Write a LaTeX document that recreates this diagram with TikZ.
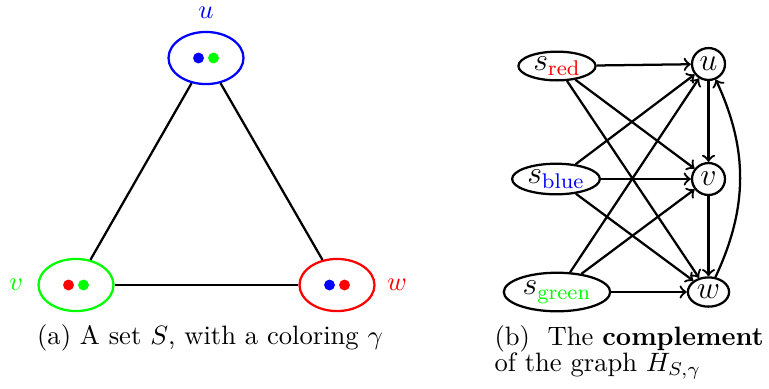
\documentclass[tikz,border=0pt]{standalone}
\usetikzlibrary{shapes.geometric}
\definecolor{pgreen}{RGB}{0,255,0}
\definecolor{pred}{RGB}{255,0,0}
\definecolor{pblue}{RGB}{0,0,255}
\begin{document}
\begin{tikzpicture}[x=0.376pt,y=-0.376pt,
  setnode/.style={ellipse,draw,line width=0.85pt,minimum width=28.2pt,minimum height=19.6pt,inner sep=0pt},
  dot/.style={circle,fill,inner sep=0pt,minimum size=4.1pt},
  gnode/.style={ellipse,draw,line width=0.85pt,inner sep=0pt,font=\large},
  edge/.style={line width=0.85pt},
  arc/.style={line width=0.85pt,->}]
\useasboundingbox (0,0) rectangle (769,388);
% (a)
\node[setnode,draw=pblue] (u) at (206,58) {};
\node[setnode,draw=pgreen] (v) at (76,285) {};
\node[setnode,draw=pred] (w) at (337,285) {};
\node[dot,pblue] (u1) at (198.5,58) {};
\node[dot,pgreen] (u2) at (213.5,58) {};
\node[dot,pred] (v1) at (68.5,285) {};
\node[dot,pgreen] (v2) at (83.5,285) {};
\node[dot,pblue] (w1) at (329.5,285) {};
\node[dot,pred] (w2) at (344.5,285) {};
\node[text=pblue] (lu) at (206,13) {$u$};
\node[text=pgreen] (lv) at (16,285) {$v$};
\node[text=pred] (lw) at (397,285) {$w$};
\draw[edge] (u) -- (v);
\draw[edge] (u) -- (w);
\draw[edge] (v) -- (w);
\node (capa) at (210,338) {(a) A set $S$, with a coloring $\gamma$};
% (b)
\node[gnode,minimum width=29pt,minimum height=10.8pt] (sr) at (557,66) {$s_{\textcolor{pred}{\mathrm{red}}}$};
\node[gnode,minimum width=33pt,minimum height=11.5pt] (sb) at (556,179) {$s_{\textcolor{pblue}{\mathrm{blue}}}$};
\node[gnode,minimum width=40pt,minimum height=14.5pt] (sg) at (557,292) {$s_{\textcolor{pgreen}{\mathrm{green}}}$};
\node[gnode,minimum width=12.4pt,minimum height=12pt] (gu) at (708.5,64) {$u$};
\node[gnode,minimum width=12.4pt,minimum height=12pt] (gv) at (708.5,179) {$v$};
\node[gnode,minimum width=15.5pt,minimum height=11pt] (gw) at (708.5,292) {$w$};
\foreach \s in {sr,sb,sg}{
  \foreach \t in {gu,gv,gw}{
    \draw[arc] (\s) -- (\t);
  }
}
\draw[arc] (gu) -- (gv);
\draw[arc] (gv) -- (gw);
\draw[arc] (gw) to[bend right=25] (gu);
\node[anchor=base west,inner sep=0pt] (capb1) at (494,345) {(b)\ \ The \textbf{complement}};
\node[anchor=base west,inner sep=0pt] (capb2) at (494,371) {of the graph $H_{S,\gamma}$};
\end{tikzpicture}
\end{document}
